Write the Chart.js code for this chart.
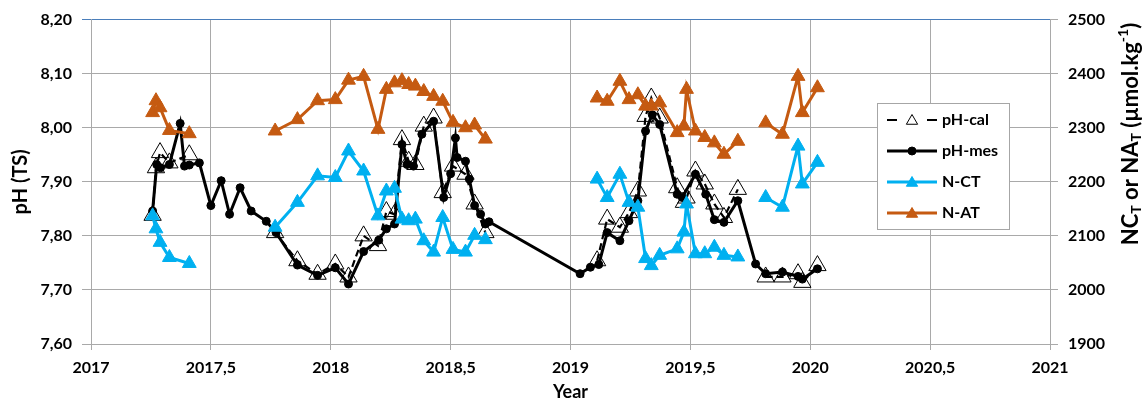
<!DOCTYPE html>
<html>
<head>
<meta charset="utf-8">
<script src="https://cdn.jsdelivr.net/npm/chart.js@4.4.0/dist/chart.umd.min.js"></script>
<style>
  html, body { margin: 0; padding: 0; background: #fff; }
  #wrap { width: 1143px; height: 403px; }
</style>
</head>
<body>
<div id="wrap"><canvas id="chart" width="1143" height="403"></canvas></div>
<script>
// sampling dates (pH-cal, N-CT, N-AT share them); null values break the lines between campaigns
const sampleDates = [
  2017.257, 2017.271, 2017.288, 2017.327, 2017.41, 2017.6,
  2017.768, 2017.861, 2017.945, 2018.019, 2018.074, 2018.137, 2018.197, 2018.232, 2018.266, 2018.297,
  2018.325, 2018.353, 2018.388, 2018.429, 2018.467, 2018.51, 2018.562, 2018.6, 2018.645, 2018.9,
  2019.111, 2019.153, 2019.206, 2019.244, 2019.281, 2019.313, 2019.337, 2019.372, 2019.445, 2019.473,
  2019.484, 2019.521, 2019.56, 2019.6, 2019.64, 2019.698, 2019.75,
  2019.814, 2019.884, 2019.949, 2019.967, 2020.03
];
const phCal = [
  7.838, 7.926, 7.954, 7.935, 7.950, null,
  7.806, 7.754, 7.729, 7.748, 7.724, 7.800, 7.782, 7.845, 7.840, 7.978,
  7.938, 7.932, 8.003, 8.018, 7.880, 7.929, 7.914, 7.859, 7.806, null,
  7.754, 7.831, 7.816, 7.843, 7.883, 8.021, 8.055, 8.018, 7.889, 7.862,
  7.870, 7.920, 7.896, 7.859, 7.834, 7.886, null,
  7.724, 7.724, 7.730, 7.714, 7.745
];
const nCT = [
  2137, 2113, 2088, 2060, 2049, null,
  2116, 2162, 2211, 2208, 2257, 2220, 2137, 2183, 2188, 2131,
  2128, 2131, 2091, 2070, 2134, 2075, 2070, 2101, 2093, null,
  2205, 2171, 2214, 2162, 2153, 2058, 2045, 2064, 2076, 2107,
  2159, 2067, 2067, 2079, 2064, 2061, null,
  2171, 2153, 2266, 2196, 2236
];
const nAT = [
  2328, 2350, 2337, 2295, 2289, null,
  2294, 2315, 2350, 2352, 2388, 2395, 2297, 2371, 2383, 2387,
  2380, 2377, 2367, 2358, 2349, 2310, 2300, 2305, 2279, null,
  2355, 2349, 2386, 2352, 2361, 2340, 2340, 2346, 2291, 2303,
  2371, 2294, 2282, 2272, 2251, 2275, null,
  2309, 2288, 2395, 2328, 2374
];

// measured pH, denser time series
const mesDates = [
  2017.257, 2017.274, 2017.29, 2017.327, 2017.372, 2017.39, 2017.41, 2017.452, 2017.5, 2017.543,
  2017.578, 2017.622, 2017.668, 2017.731, 2017.772, 2017.861, 2017.945, 2018.019, 2018.074, 2018.137,
  2018.2, 2018.232, 2018.266, 2018.297, 2018.318, 2018.345, 2018.38, 2018.429, 2018.471, 2018.5,
  2018.52, 2018.527, 2018.562, 2018.578, 2018.6, 2018.625, 2018.645, 2018.66,
  2019.04, 2019.083, 2019.118, 2019.153, 2019.206, 2019.244, 2019.281, 2019.313, 2019.341, 2019.372,
  2019.445, 2019.466, 2019.521, 2019.564, 2019.6, 2019.64, 2019.698, 2019.772, 2019.814, 2019.884,
  2019.949, 2019.967, 2020.03
];
const phMes = [
  7.846, 7.932, 7.926, 7.932, 8.008, 7.929, 7.931, 7.935, 7.856, 7.902,
  7.840, 7.889, 7.846, 7.827, 7.806, 7.746, 7.727, 7.741, 7.711, 7.771,
  7.792, 7.813, 7.822, 7.969, 7.932, 7.929, 7.988, 8.012, 7.871, 7.915,
  7.981, 7.945, 7.938, 7.905, 7.856, 7.840, 7.822, 7.826,
  7.730, 7.742, 7.747, 7.806, 7.791, 7.828, 7.865, 7.994, 8.024, 8.006,
  7.877, 7.871, 7.914, 7.877, 7.830, 7.825, 7.865, 7.748, 7.730, 7.733,
  7.725, 7.720, 7.739
];

const FONT = 'Lato, "Open Sans", sans-serif';
const GRID = '#a9a9a9';
const ORANGE = '#C55A11';
const CYAN = '#00B0F0';

const pts = (xs, ys) => xs.map((x, i) => ({ x: x, y: ys[i] }));
const comma = (v, d) => (d == null ? String(v) : v.toFixed(d)).replace('.', ',');

// legend drawn inside the plot, the way the original workbook has it
const legendBox = {
  id: 'legendBox',
  afterDraw(chart) {
    const ctx = chart.ctx;
    ctx.save();
    ctx.fillStyle = '#fff';
    ctx.strokeStyle = '#a6a6a6';
    ctx.lineWidth = 1;
    ctx.fillRect(877.5, 103.5, 132, 126);
    ctx.strokeRect(877.5, 103.5, 132, 126);
    chart.data.datasets.forEach((ds, i) => {
      const y = 120 + i * 31;
      ctx.save();
      ctx.strokeStyle = ds.borderColor;
      ctx.lineWidth = ds.borderWidth;
      ctx.setLineDash(ds.borderDash ? [10, 30] : []);
      ctx.beginPath();
      ctx.moveTo(887, y);
      ctx.lineTo(937, y);
      ctx.stroke();
      ctx.setLineDash([]);
      ctx.fillStyle = ds.pointBackgroundColor;
      ctx.strokeStyle = ds.pointBorderColor;
      ctx.lineWidth = ds.pointBorderWidth;
      Chart.helpers.drawPoint(ctx, {
        pointStyle: ds.pointStyle,
        radius: ds.pointStyle === 'circle' ? 4 : 6.5,
        borderWidth: ds.pointBorderWidth,
        rotation: 0
      }, 912, y + (ds.pointStyle === 'triangle' ? 1 : 0));
      ctx.restore();
      ctx.fillStyle = '#000';
      ctx.font = 'bold 16px ' + FONT;
      ctx.textBaseline = 'middle';
      ctx.textAlign = 'left';
      ctx.fillText(ds.label, 942, y);
    });
    ctx.restore();
  }
};

// right axis title needs subscripts and a superscript
const rightTitle = {
  id: 'rightTitle',
  afterDraw(chart) {
    const ctx = chart.ctx;
    const size = 22;
    const parts = [
      { t: 'NC', k: 1, dy: 0 }, { t: 'T', k: 0.62, dy: 5 },
      { t: ' or NA', k: 1, dy: 0 }, { t: 'T', k: 0.62, dy: 5 },
      { t: ' (µmol.kg', k: 1, dy: 0 }, { t: '-1', k: 0.62, dy: -8 },
      { t: ')', k: 1, dy: 0 }
    ];
    ctx.save();
    let total = 0;
    parts.forEach(p => {
      ctx.font = 'bold ' + Math.round(size * p.k) + 'px ' + FONT;
      p.w = ctx.measureText(p.t).width;
      total += p.w;
    });
    ctx.translate(1131, 134);
    ctx.rotate(-Math.PI / 2);
    ctx.fillStyle = '#000';
    ctx.textBaseline = 'middle';
    ctx.textAlign = 'left';
    let x = -total / 2;
    parts.forEach(p => {
      ctx.font = 'bold ' + Math.round(size * p.k) + 'px ' + FONT;
      ctx.fillText(p.t, x, p.dy);
      x += p.w;
    });
    ctx.restore();
  }
};

new Chart(document.getElementById('chart'), {
  type: 'line',
  data: {
    datasets: [
      {
        label: 'pH-cal',
        data: pts(sampleDates, phCal),
        yAxisID: 'y',
        order: 3,
        borderColor: '#000',
        borderWidth: 2.2,
        borderDash: [7, 4],
        pointStyle: 'triangle',
        pointRadius: 10,
        pointBackgroundColor: 'rgba(0,0,0,0)',
        pointBorderColor: '#000',
        pointBorderWidth: 1
      },
      {
        label: 'pH-mes',
        data: pts(mesDates, phMes),
        yAxisID: 'y',
        order: 2,
        borderColor: '#000',
        borderWidth: 3,
        pointStyle: 'circle',
        pointRadius: 4,
        pointBackgroundColor: '#000',
        pointBorderColor: '#000',
        pointBorderWidth: 1
      },
      {
        label: 'N-CT',
        data: pts(sampleDates, nCT),
        yAxisID: 'y2',
        order: 1,
        borderColor: CYAN,
        borderWidth: 3,
        pointStyle: 'triangle',
        pointRadius: 8,
        pointBackgroundColor: CYAN,
        pointBorderColor: CYAN,
        pointBorderWidth: 1
      },
      {
        label: 'N-AT',
        data: pts(sampleDates, nAT),
        yAxisID: 'y2',
        order: 0,
        borderColor: ORANGE,
        borderWidth: 3,
        pointStyle: 'triangle',
        pointRadius: 8,
        pointBackgroundColor: ORANGE,
        pointBorderColor: ORANGE,
        pointBorderWidth: 1
      }
    ]
  },
  options: {
    responsive: false,
    animation: false,
    spanGaps: false,
    layout: { padding: { top: 18, left: 0, right: 0, bottom: 0 } },
    plugins: {
      legend: { display: false },
      tooltip: { enabled: false }
    },
    scales: {
      x: {
        type: 'linear',
        min: 2017,
        max: 2021,
        afterFit(scale) { scale.height = 59; },
        ticks: {
          stepSize: 0.5,
          padding: 8,
          color: '#000',
          font: { family: FONT, size: 16, weight: 'bold' },
          callback: v => comma(v)
        },
        grid: { color: GRID, lineWidth: 1, tickLength: 6 },
        border: { color: GRID },
        title: {
          display: true,
          text: 'Year',
          color: '#000',
          padding: { top: 0, bottom: 0 },
          font: { family: FONT, size: 18, weight: 'bold' }
        }
      },
      y: {
        position: 'left',
        min: 7.6,
        max: 8.2,
        afterFit(scale) { scale.width = 91; },
        ticks: {
          stepSize: 0.1,
          padding: 10,
          color: '#000',
          font: { family: FONT, size: 16, weight: 'bold' },
          callback: v => comma(v, 2)
        },
        grid: {
          color: c => (c.tick && Math.abs(c.tick.value - 8.2) < 1e-6 ? '#4a7ebb' : GRID),
          lineWidth: 1,
          tickLength: 9
        },
        border: { color: GRID },
        title: {
          display: true,
          text: 'pH (TS)',
          color: '#000',
          padding: { top: 9, bottom: 0 },
          font: { family: FONT, size: 20, weight: 'bold' }
        }
      },
      y2: {
        position: 'right',
        min: 1900,
        max: 2500,
        afterFit(scale) { scale.width = 93; },
        ticks: {
          stepSize: 100,
          padding: 10,
          color: '#000',
          font: { family: FONT, size: 16, weight: 'bold' },
          callback: v => String(v)
        },
        grid: { drawOnChartArea: false, color: GRID, lineWidth: 1, tickLength: 8 },
        border: { color: GRID }
      }
    }
  },
  plugins: [legendBox, rightTitle]
});
</script>
</body>
</html>
